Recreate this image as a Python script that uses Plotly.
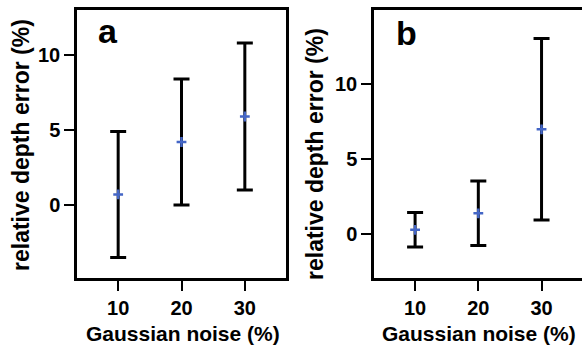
import plotly.graph_objects as go

noise = [10, 20, 30]
a_mean = [0.7, 4.2, 5.9]
a_err = [4.2, 4.2, 4.9]
b_mean = [0.3, 1.4, 7.0]
b_err = [1.15, 2.15, 6.05]
x_ticks = [10, 20, 30]
y_ticks = [0, 5, 10]
panel_labels = ["a", "b"]
x_title = "Gaussian noise (%)"
y_title = "relative depth error (%)"

W, H = 582, 347
FONT = "Liberation Sans, Arial, sans-serif"
BLUE = "#4466c6"

def px(x):
    return x / W

def py(y):
    return 1 - y / H

fig = go.Figure()

for i, (m, e) in enumerate([(a_mean, a_err), (b_mean, b_err)]):
    suffix = "" if i == 0 else "2"
    fig.add_trace(go.Scatter(
        x=noise, y=m, mode="markers",
        xaxis="x" + suffix, yaxis="y" + suffix,
        marker=dict(symbol="cross-thin", size=7, line=dict(width=2.5, color=BLUE), color=BLUE),
        error_y=dict(type="data", array=e, visible=True, color="black", thickness=3, width=8),
        showlegend=False,
    ))

axis_common = dict(
    showgrid=False, zeroline=False, showline=True, linecolor="black", linewidth=2.5,
    ticks="outside", ticklen=10, tickwidth=2, tickcolor="black",
    tickfont=dict(family=FONT, size=20, color="black", weight="bold"),
)

y_dom = [py(278), py(10)]
fig.update_layout(
    width=W, height=H, margin=dict(l=0, r=0, t=0, b=0),
    paper_bgcolor="white", plot_bgcolor="white",
    xaxis=dict(domain=[px(77), px(286)], range=[3.5, 36.5], tickvals=x_ticks, anchor="y",
               mirror=True, **axis_common),
    yaxis=dict(domain=y_dom, range=[-4.87, 13.0], tickvals=y_ticks, anchor="x",
               mirror=True, **axis_common),
    xaxis2=dict(domain=[px(374), 1.0], range=[3.5, 36.4], tickvals=x_ticks, anchor="y2",
                mirror=True, **axis_common),
    yaxis2=dict(domain=y_dom, range=[-2.91, 14.95], tickvals=y_ticks, anchor="x2",
                mirror=False, **axis_common),
)

title_font = dict(family=FONT, size=21, color="black", weight="bold")
ytitle_font = dict(family=FONT, size=23, color="black", weight="bold")
label_font = dict(family=FONT, size=34, color="black", weight="bold")

annotations = [
    dict(text=x_title, x=px(183), y=py(333), xref="paper", yref="paper",
         xanchor="center", yanchor="middle", showarrow=False, font=title_font),
    dict(text=x_title, x=px(479), y=py(333), xref="paper", yref="paper",
         xanchor="center", yanchor="middle", showarrow=False, font=title_font),
    dict(text=y_title, x=px(21), y=py(145), xref="paper", yref="paper", textangle=-90,
         xanchor="center", yanchor="middle", showarrow=False, font=ytitle_font),
    dict(text=y_title, x=px(315), y=py(154), xref="paper", yref="paper", textangle=-90,
         xanchor="center", yanchor="middle", showarrow=False, font=ytitle_font),
    dict(text=panel_labels[0], x=px(96), y=py(31), xref="paper", yref="paper",
         xanchor="left", yanchor="middle", showarrow=False, font=label_font),
    dict(text=panel_labels[1], x=px(394), y=py(33), xref="paper", yref="paper",
         xanchor="left", yanchor="middle", showarrow=False, font=label_font),
]
fig.update_layout(annotations=annotations)

fig.write_html("out.html")
